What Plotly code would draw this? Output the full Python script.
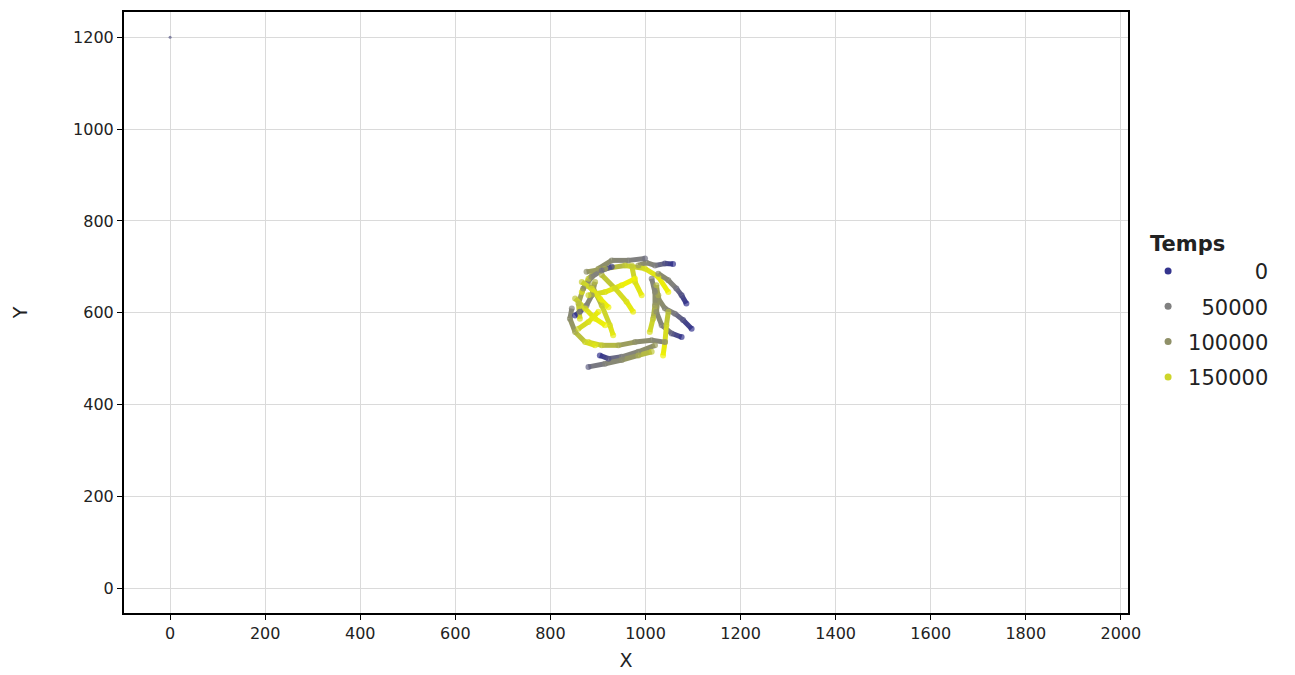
import plotly.graph_objects as go
from plotly.colors import sample_colorscale

# ---- data: trajectories (track id, X, Y, Temps) ----
track_id = (
    ["A"] * 5 + ["B"] * 6 + ["C"] * 6 + ["D"] * 4 + ["E"] * 4 + ["F"] * 3 +
    ["G"] * 5 + ["H"] * 6 + ["I"] * 5 + ["J"] * 4 + ["K"] * 6 + ["L"] * 5 +
    ["M"] * 5 + ["N"] * 5 + ["O"] * 5 + ["P"] * 6 + ["Q"] * 4 + ["R"] * 3 +
    ["S"] * 5 + ["U"] * 4 + ["V"] * 4 + ["Z"] * 1
)
x_vals = [
    1058, 1041, 1020, 1002, 985,
    999, 964, 929, 901, 880, 866,
    876, 915, 957, 999, 1027, 1048,
    908, 936, 960, 974,
    887, 908, 925, 932,
    971, 978, 992,
    1086, 1076, 1065, 1048, 1027,
    1097, 1079, 1062, 1041, 1027, 1023,
    1076, 1055, 1034, 1023, 1027,
    1048, 1044, 1041, 1037,
    1041, 1013, 978, 943, 908, 880,
    904, 922, 950, 985, 1020,
    880, 915, 950, 985, 1013,
    845, 841, 852, 873, 894,
    852, 862, 876, 887, 894,
    929, 908, 887, 869, 859, 862,
    852, 873, 894, 915,
    859, 880, 901,
    1013, 1020, 1020, 1016, 1009,
    880, 915, 950, 978,
    866, 887, 905, 922,
    0,
]
y_vals = [
    706, 707, 703, 709, 703,
    718, 714, 714, 696, 674, 645,
    689, 696, 703, 696, 678, 645,
    682, 653, 624, 602,
    660, 616, 573, 551,
    703, 667, 638,
    620, 638, 653, 671, 685,
    565, 584, 598, 609, 631, 660,
    547, 555, 573, 602, 638,
    602, 573, 536, 507,
    536, 540, 536, 529, 529, 536,
    507, 500, 504, 515, 529,
    482, 489, 497, 507, 515,
    609, 587, 558, 536, 529,
    594, 602, 616, 638, 667,
    700, 692, 678, 653, 620, 587,
    631, 609, 587, 573,
    565, 580, 602,
    674, 645, 616, 587, 558,
    638, 645, 660, 674,
    667, 652, 630, 612,
    1200,
]
temps = [
    0, 20000, 50000, 80000, 110000,
    40000, 60000, 80000, 110000, 140000, 170000,
    100000, 120000, 140000, 160000, 175000, 185000,
    130000, 150000, 165000, 180000,
    120000, 140000, 160000, 175000,
    140000, 160000, 180000,
    0, 20000, 40000, 70000, 100000,
    0, 20000, 45000, 75000, 100000, 130000,
    0, 30000, 60000, 90000, 120000,
    130000, 150000, 170000, 185000,
    60000, 80000, 100000, 120000, 140000, 160000,
    0, 20000, 50000, 80000, 110000,
    30000, 60000, 90000, 120000, 140000,
    60000, 90000, 120000, 150000, 170000,
    0, 20000, 50000, 90000, 130000,
    10000, 40000, 70000, 100000, 130000, 160000,
    140000, 160000, 175000, 185000,
    150000, 165000, 180000,
    50000, 80000, 110000, 140000, 160000,
    150000, 165000, 178000, 188000,
    145000, 160000, 175000, 185000,
    25000,
]
legend_values = [0, 50000, 100000, 150000]
legend_labels = ["\u00a0" * 10 + "0", "\u00a0\u00a0" + "50000", "100000", "150000"]
x_ticks = [0, 200, 400, 600, 800, 1000, 1200, 1400, 1600, 1800, 2000]
y_ticks = [0, 200, 400, 600, 800, 1000, 1200]

t_max = 190000
cscale = [[0.0, "#34348E"], [0.26, "#808080"], [0.53, "#8F9068"],
          [0.79, "#CDD52B"], [1.0, "#F6F600"]]


def col(t):
    return sample_colorscale(cscale, [min(max(t / t_max, 0), 1)])[0]


fig = go.Figure()

# line segments of each trajectory, coloured by time
n = len(x_vals)
for i in range(n - 1):
    if track_id[i] != track_id[i + 1]:
        continue
    tm = (temps[i] + temps[i + 1]) / 2
    fig.add_trace(go.Scatter(
        x=[x_vals[i], x_vals[i + 1]], y=[y_vals[i], y_vals[i + 1]],
        mode="lines", line=dict(color=col(tm), width=5),
        hoverinfo="skip", showlegend=False))

# points
sizes = [3 if tid == "Z" else 6 for tid in track_id]
fig.add_trace(go.Scatter(
    x=x_vals, y=y_vals, mode="markers",
    marker=dict(color=temps, colorscale=cscale, cmin=0, cmax=t_max,
                size=sizes, showscale=False, line=dict(width=0)),
    showlegend=False))

# legend entries
for v, lab in zip(legend_values, legend_labels):
    fig.add_trace(go.Scatter(
        x=[None], y=[None], mode="markers", name=lab,
        legendgroup=str(v),
        marker=dict(color=col(v), size=7)))

FONT = "DejaVu Sans, Verdana, sans-serif"
axis_common = dict(
    showgrid=True, gridcolor="#DADADA", gridwidth=1, automargin=False,
    zeroline=False, showline=True, linecolor="black", linewidth=2,
    mirror=True, ticks="outside", ticklen=5, tickcolor="black", tickwidth=1,
    tickfont=dict(family=FONT, size=16, color="#222"),
)

fig.update_layout(
    width=1295, height=675,
    margin=dict(l=116, r=175, t=4, b=70, autoexpand=False),
    plot_bgcolor="white", paper_bgcolor="white",
    font=dict(family=FONT, color="#222"),
    xaxis=dict(range=[-97, 2015], tickvals=x_ticks,
               title=dict(text="X", font=dict(size=19), standoff=11),
               **axis_common),
    yaxis=dict(range=[-54, 1255], tickvals=y_ticks,
               title=dict(text="Y", font=dict(size=19), standoff=40),
               **axis_common),
    legend=dict(
        title=dict(text="<b>Temps</b>", font=dict(size=21)),
        x=1.020, y=0.648, xanchor="left", yanchor="top",
        font=dict(size=21), tracegroupgap=5, itemwidth=30,
        bgcolor="rgba(0,0,0,0)"),
)

fig.write_html("out.html")
